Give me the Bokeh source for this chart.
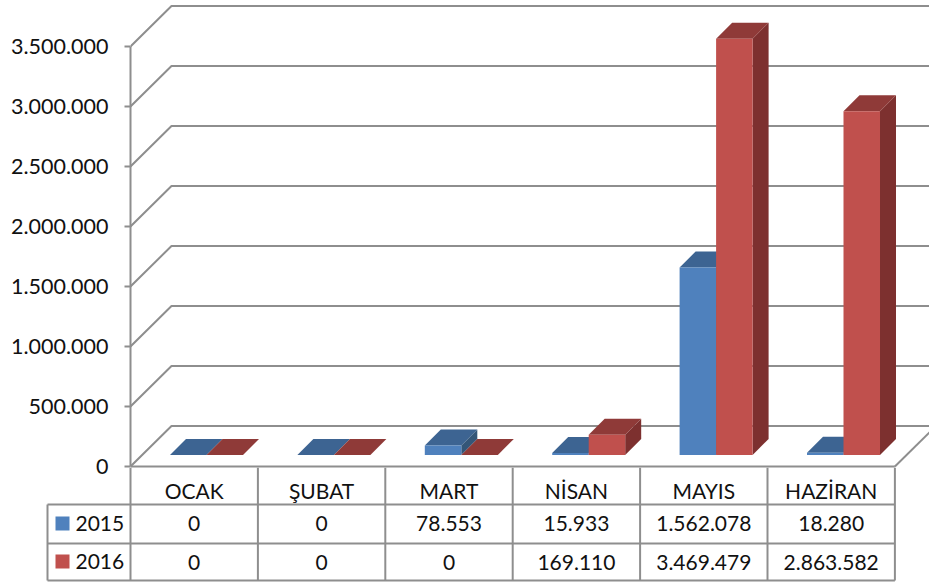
from bokeh.plotting import figure
from bokeh.models import Range1d, FixedTicker
from bokeh.core.properties import value
from bokeh.embed import file_html
from bokeh.resources import INLINE

months = ["OCAK", "ŞUBAT", "MART", "NİSAN", "MAYIS", "HAZİRAN"]
series_names = ["2015", "2016"]
values_2015 = [0, 0, 78553, 15933, 1562078, 18280]
values_2016 = [0, 0, 0, 169110, 3469479, 2863582]
y_ticks = [0, 500000, 1000000, 1500000, 2000000, 2500000, 3000000, 3500000]

FONT = "Lato"
GRID = "#8e8e8e"
FRONT = ["#4F81BD", "#C0504D"]
TOP = ["#3D6492", "#8F3A38"]
SIDE = ["#345678", "#7D302F"]

fmt = lambda v: f"{v:,}".replace(",", ".")

# scales
PX_X = 127.4            # px per category
PX_PER_VAL = 60 / 500000
LEFT = 130
W, H = 929, 582
TOP_H = 482             # chart figure height (keeps the "0" label uncut)
TABLE_Y = 467           # table figure starts here, drawn over the chart figure
ZERO_PX = 466
dpx = lambda px: px / PX_X
vpx = lambda px: px / PX_PER_VAL

p = figure(width=W, height=TOP_H, output_backend="svg", toolbar_location=None,
           x_range=Range1d(0, dpx(W - LEFT)),
           y_range=Range1d(-vpx(TOP_H - ZERO_PX), vpx(ZERO_PX)),
           x_axis_location=None, min_border=0, min_border_left=LEFT,
           outline_line_color=None, background_fill_color="white",
           styles={"position": "absolute", "left": "0", "top": "0"})
p.grid.visible = False
ax = p.yaxis[0]
ax.ticker = FixedTicker(ticks=y_ticks)
ax.major_label_overrides = {tk: fmt(tk) for tk in y_ticks}
ax.bounds = (0, y_ticks[-1])
ax.axis_line_color = GRID
ax.axis_line_width = 2
ax.major_tick_line_color = GRID
ax.major_tick_line_width = 2
ax.major_tick_out = 6
ax.major_tick_in = 0
ax.minor_tick_line_color = None
ax.major_label_standoff = 16
ax.major_label_text_font = FONT
ax.major_label_text_font_size = "21.5px"
ax.major_label_text_color = "#111111"

# walls and floor
WALL_DX, WALL_DY = dpx(41), vpx(40.5)
xe = dpx(W - LEFT) + 0.1
n_cat = len(months)
p.multi_line([[0, WALL_DX, xe] for _ in y_ticks],
             [[tk, tk + WALL_DY, tk + WALL_DY] for tk in y_ticks],
             line_color=GRID, line_width=2)
p.line([0, n_cat], [0, 0], line_color=GRID, line_width=2)
p.line([n_cat, n_cat + WALL_DX], [0, WALL_DY], line_color=GRID, line_width=2)

# 3-D bars
BAR_W = dpx(36.5)
BAR_START = dpx(39.5)
FLOOR = vpx(11.5)
BDX, BDY = dpx(16), vpx(16)
for s, vals in enumerate([values_2015, values_2016]):
    x0 = [i + BAR_START + s * BAR_W for i in range(n_cat)]
    x1 = [x + BAR_W for x in x0]
    tops = [FLOOR + v for v in vals]
    p.patches([[b, b, b + BDX, b + BDX] for b in x1],
              [[FLOOR, ty, ty + BDY, FLOOR + BDY] for ty in tops],
              fill_color=SIDE[s], line_color=None)
    p.patches([[a, b, b + BDX, a + BDX] for a, b in zip(x0, x1)],
              [[ty, ty, ty + BDY, ty + BDY] for ty in tops],
              fill_color=TOP[s], line_color=None)
    p.quad(left=x0, right=x1, bottom=[FLOOR] * n_cat, top=tops,
           fill_color=FRONT[s], line_color=None)

# data table
t = figure(width=W, height=H - TABLE_Y, output_backend="svg", toolbar_location=None,
           x_range=Range1d(-dpx(LEFT), dpx(W - LEFT)), y_range=Range1d(H, TABLE_Y),
           x_axis_location=None, y_axis_location=None, min_border=0,
           outline_line_color=None, background_fill_alpha=0, border_fill_alpha=0,
           styles={"position": "absolute", "left": "0", "top": f"{TABLE_Y}px"})
t.grid.visible = False
ROW = [504, 543, 580]
TLEFT = dpx(47 - LEFT)
t.multi_line([[TLEFT, n_cat]] * len(ROW), [[r, r] for r in ROW], line_color=GRID, line_width=2)
t.multi_line([[i, i] for i in range(n_cat + 1)], [[TABLE_Y, ROW[-1]]] * (n_cat + 1),
             line_color=GRID, line_width=2)
t.line([TLEFT, TLEFT], [ROW[0], ROW[-1]], line_color=GRID, line_width=2)

tx = dict(text_font=value(FONT), text_font_size="21px", text_color="#111111",
          text_baseline="middle")
xs = [i + 0.5 for i in range(n_cat)]
t.text(xs, [490] * n_cat, text=months, text_align="center", **tx)
for yc, vals in zip([523, 562], [values_2015, values_2016]):
    t.text(xs, [yc] * n_cat, text=[fmt(v) for v in vals], text_align="center", **tx)
sx0, sx1 = dpx(55 - LEFT), dpx(69 - LEFT)
for yc, name, col in zip([523, 561], series_names, FRONT):
    t.quad(left=[sx0], right=[sx1], top=[yc - 7], bottom=[yc + 7], fill_color=col, line_color=None)
    t.text([dpx(75 - LEFT)], [yc], text=[name], text_align="left", **tx)

open("out.html", "w").write(file_html([p, t], INLINE))
